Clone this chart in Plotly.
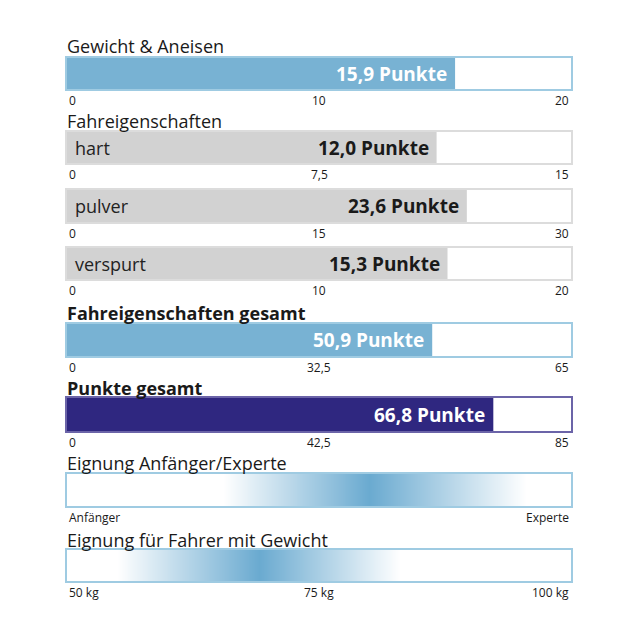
import plotly.graph_objects as go

# ---------------- data ----------------
section_titles = ["Gewicht & Aneisen", "Fahreigenschaften", "Fahreigenschaften gesamt",
                  "Punkte gesamt", "Eignung Anfänger/Experte", "Eignung für Fahrer mit Gewicht"]
title_bold = [False, False, True, True, False, False]

bar_names = ["", "hart", "pulver", "verspurt", "", ""]
score_labels = ["15,9 Punkte", "12,0 Punkte", "23,6 Punkte", "15,3 Punkte", "50,9 Punkte", "66,8 Punkte"]
bar_lengths = [15.4, 11.0, 23.8, 15.1, 47.1, 71.9]   # as drawn in the picture
axis_max = [20, 15, 30, 20, 65, 85]
tick_vals = [[0, 10, 20], [0, 7.5, 15], [0, 15, 30], [0, 10, 20], [0, 32.5, 65], [0, 42.5, 85]]
tick_text = [["0", "10", "20"], ["0", "7,5", "15"], ["0", "15", "30"], ["0", "10", "20"],
             ["0", "32,5", "65"], ["0", "42,5", "85"]]

level_x = [0, 31, 60, 91, 100]
level_z = [0, 0, 1, 0, 0]
level_ticks = [0, 100]
level_ticktext = ["Anfänger", "Experte"]

weight_x = [50, 55, 69, 83, 100]
weight_z = [0, 0, 1, 0, 0]
weight_ticks = [50, 75, 100]
weight_ticktext = ["50 kg", "75 kg", "100 kg"]

# ---------------- styles ----------------
W = H = 640
OFF = 8  # page offset of the plot in the browser
L, R = 67 - OFF, 571 - OFF
bar_px = [(58, 89), (132, 163), (190, 222), (248, 279), (324, 356), (398, 431), (474, 506), (550, 581)]
title_px = [46, 121, 313, 388, 463, 540]
fill_colors = ["#78b2d3", "#d2d2d2", "#d2d2d2", "#d2d2d2", "#78b2d3", "#2f2780"]
line_colors = ["#9fcbe2", "#dcdcdc", "#dcdcdc", "#dcdcdc", "#9fcbe2", "#6b64a8", "#9fcbe2", "#9fcbe2"]
value_colors = ["white", "#1a1a1a", "#1a1a1a", "#1a1a1a", "white", "white"]
FONT = "Open Sans"
TXT = "#1a1a1a"


def py(p):
    return 1 - (p - OFF) / H


fig = go.Figure()
layout = dict(width=W, height=H, margin=dict(l=0, r=0, t=0, b=0),
              paper_bgcolor="white", plot_bgcolor="white", showlegend=False,
              font=dict(family=FONT, color=TXT))
annotations = []

for i in range(8):
    n = "" if i == 0 else str(i + 1)
    xa, ya = "x" + n, "y" + n
    top, bot = bar_px[i]
    if i < 6:
        xr = [0, axis_max[i]]
        fig.add_trace(go.Bar(x=[bar_lengths[i]], y=[0], orientation="h", width=1,
                             marker=dict(color=fill_colors[i], line=dict(width=0)),
                             xaxis=xa, yaxis=ya, hoverinfo="skip"))
        tv, tt = tick_vals[i], tick_text[i]
        annotations.append(dict(x=bar_lengths[i], y=0, xref=xa, yref=ya, text="<b>%s</b>" % score_labels[i],
                                xanchor="right", yanchor="middle", xshift=-6, showarrow=False,
                                font=dict(size=19, color=value_colors[i], family=FONT)))
        if bar_names[i]:
            annotations.append(dict(x=0, y=0, xref=xa, yref=ya, text=bar_names[i],
                                    xanchor="left", yanchor="middle", xshift=6, showarrow=False,
                                    font=dict(size=18, color="#222222", family=FONT)))
    else:
        if i == 6:
            hx, hz, tv, tt = level_x, level_z, level_ticks, level_ticktext
        else:
            hx, hz, tv, tt = weight_x, weight_z, weight_ticks, weight_ticktext
        xr = [hx[0], hx[-1]]
        fig.add_trace(go.Heatmap(x=hx, y=[-0.5, 0.5], z=[hz, hz], zsmooth="best",
                                 colorscale=[[0, "#ffffff"], [1, "#6aaad0"]], zmin=0, zmax=1,
                                 showscale=False, xaxis=xa, yaxis=ya, hoverinfo="skip"))
    layout["xaxis" + n] = dict(domain=[L / W, R / W], range=xr, anchor=ya, showgrid=False,
                               zeroline=False, showticklabels=False, ticks="", showline=True,
                               mirror=True, linecolor=line_colors[i], linewidth=2, fixedrange=True)
    layout["yaxis" + n] = dict(domain=[py(bot), py(top)], range=[-0.5, 0.5], anchor=xa, showgrid=False,
                               zeroline=False, showticklabels=False, ticks="", showline=True,
                               mirror=True, linecolor=line_colors[i], linewidth=2, fixedrange=True)
    anchors = ["left"] + ["center"] * (len(tv) - 2) + ["right"]
    for v, t, a in zip(tv, tt, anchors):
        annotations.append(dict(x=v, y=py(bot + 11), xref=xa, yref="paper", text=t,
                                xanchor=a, yanchor="middle", showarrow=False,
                                font=dict(size=12, color=TXT, family=FONT)))

for ty, t, b in zip(title_px, section_titles, title_bold):
    annotations.append(dict(x=L / W, y=py(ty), xref="paper", yref="paper",
                            text=("<b>%s</b>" % t) if b else t, xanchor="left", yanchor="middle",
                            xshift=-2, showarrow=False, font=dict(size=18, color=TXT, family=FONT)))

layout["annotations"] = annotations
fig.update_layout(**layout)
fig.write_html("out.html")
